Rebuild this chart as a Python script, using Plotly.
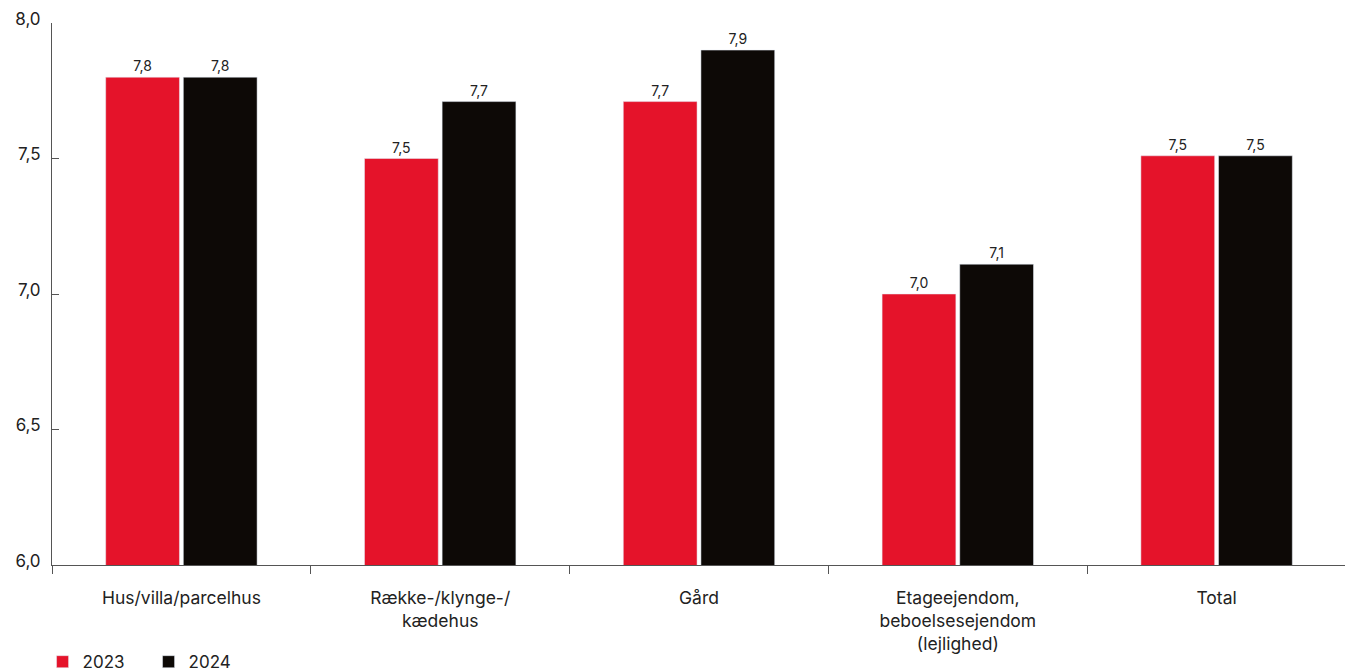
import plotly.graph_objects as go

categories = ["Hus/villa/parcelhus", "Række-/klynge-/<br>kædehus", "Gård",
              "Etageejendom,<br>beboelsesejendom<br>(lejlighed)", "Total"]
values_2023 = [7.80, 7.50, 7.71, 7.00, 7.51]
values_2024 = [7.80, 7.71, 7.90, 7.11, 7.51]
y_ticks = [6.0, 6.5, 7.0, 7.5, 8.0]

RED = "#E5132A"
BLACK = "#0D0906"
TXT = "#222222"
FONT = "Inter, Lato, sans-serif"

fig = go.Figure()
fig.add_trace(go.Bar(name="2023", x=categories, y=values_2023, marker_color=RED,
                     texttemplate="%{y:.1f}", textposition="outside",
                     textfont=dict(size=14, color=TXT), cliponaxis=False))
fig.add_trace(go.Bar(name="2024", x=categories, y=values_2024, marker_color=BLACK,
                     texttemplate="%{y:.1f}", textposition="outside",
                     textfont=dict(size=14, color=TXT), cliponaxis=False))

fig.update_layout(
    width=1345, height=664,
    margin=dict(l=44, r=7, t=15, b=107, autoexpand=False),
    plot_bgcolor="white", paper_bgcolor="white",
    separators=",.",
    barmode="group", bargap=0.4, bargroupgap=0.05,
    font=dict(family=FONT, color=TXT, size=17),
    showlegend=True,
    legend=dict(orientation="h", x=-0.0073, xanchor="left", y=-0.146, yanchor="top",
                font=dict(size=17, color=TXT), traceorder="normal",
                itemwidth=30, entrywidth=61),
)
fig.update_xaxes(showline=True, linecolor="#555555", linewidth=1,
                 ticks="outside", ticklen=8, tickcolor="#555555",
                 tickson="boundaries", showgrid=False, automargin=False,
                 tickfont=dict(size=17.5, color=TXT), ticklabelstandoff=17)
fig.update_yaxes(range=[6.0, 8.0], tickvals=y_ticks, tickformat=".1f",
                 showline=True, linecolor="#555555", linewidth=1,
                 ticks="inside", ticklen=7, tickcolor="#555555",
                 showgrid=False, zeroline=False, automargin=False,
                 tickfont=dict(size=17, color=TXT), ticklabelstandoff=7,
                 ticklabelshift=-4, ticklabeloverflow="allow")

fig.write_html("out.html")
